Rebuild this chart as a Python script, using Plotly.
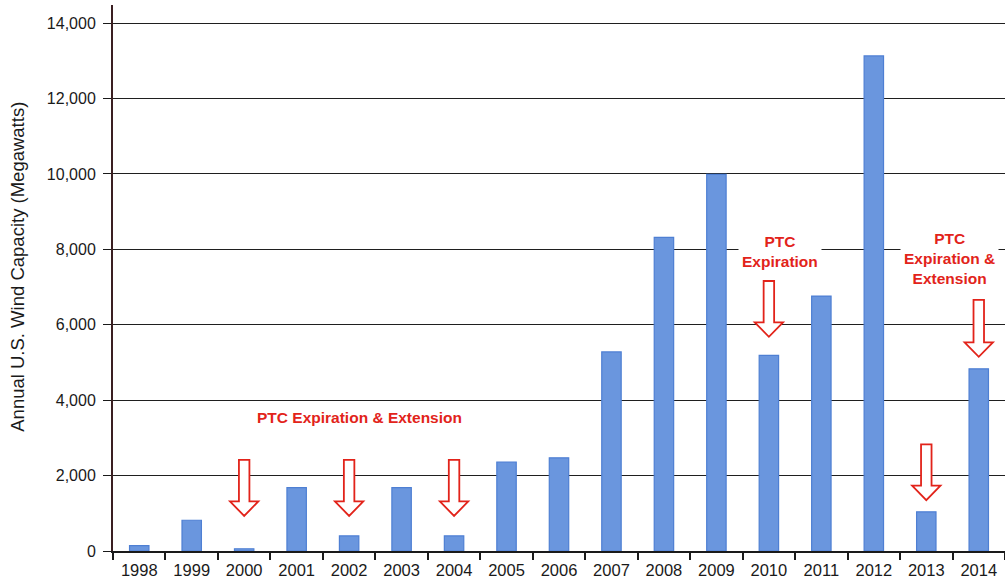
import plotly.graph_objects as go

# Annual U.S. wind capacity additions (MW)
years = [str(y) for y in range(1998, 2015)]
capacity_mw = [140, 815, 60, 1680, 400, 1680, 400, 2360, 2470, 5280,
               8320, 9990, 5190, 6760, 13130, 1040, 4830]

# PTC event arrows: year, top of shaft and tip (MW on the value axis)
arrow_years = ["2000", "2002", "2004", "2010", "2013", "2014"]
arrow_top = [2414, 2414, 2414, 7160, 2830, 6660]
arrow_tip = [930, 930, 930, 5680, 1350, 5150]

y_ticks = list(range(0, 14001, 2000))

RED = "#E2231A"
FONT = "Liberation Sans, Arial, Helvetica, sans-serif"

fig = go.Figure()
fig.add_trace(go.Bar(
    x=years, y=capacity_mw, width=0.37,
    marker=dict(color="#6A96DE", line=dict(color="#4E7FD3", width=1.2)),
    hoverinfo="x+y",
))

# hollow down arrows
shaft_hw = 0.10
head_hw = 0.27
head_len = 385
shapes = []
for yr, top, tip in zip(arrow_years, arrow_top, arrow_tip):
    c = years.index(yr)
    base = tip + head_len
    path = (f"M {c - shaft_hw},{top} L {c + shaft_hw},{top} L {c + shaft_hw},{base} "
            f"L {c + head_hw},{base} L {c},{tip} L {c - head_hw},{base} "
            f"L {c - shaft_hw},{base} Z")
    shapes.append(dict(type="path", path=path, xref="x", yref="y",
                       line=dict(color=RED, width=1.8), fillcolor="white",
                       layer="above"))

ann_font = dict(family=FONT, size=15.5, color=RED)


def cat(year, offset=0.0):
    return years.index(year) + offset


annotations = [
    dict(xref="x", yref="y", x=cat("2002", 0.19), y=3540,
         text="<b>PTC Expiration &amp; Extension</b>",
         showarrow=False, font=ann_font, yanchor="middle"),
    dict(xref="x", yref="y", x=cat("2010", 0.21), y=7930,
         text="<b>PTC<br>Expiration</b>",
         showarrow=False, font=ann_font, yanchor="middle",
         bgcolor="white", borderpad=3),
    dict(xref="x", yref="y", x=cat("2014", -0.55), y=7745,
         text="<b>PTC<br>Expiration &amp;<br>Extension</b>",
         showarrow=False, font=ann_font, yanchor="middle",
         bgcolor="white", borderpad=3),
    # value-axis title
    dict(xref="paper", yref="paper", x=-0.108, y=0.52,
         text="Annual U.S. Wind Capacity (Megawatts)", textangle=-90,
         showarrow=False, xanchor="center", yanchor="middle",
         font=dict(family=FONT, size=18.5, color="#1a1a1a")),
]

fig.update_layout(
    width=1005, height=583,
    margin=dict(l=113, r=0, t=5, b=32),
    plot_bgcolor="white", paper_bgcolor="white",
    showlegend=False,
    font=dict(family=FONT, color="#1a1a1a"),
    shapes=shapes,
    annotations=annotations,
    xaxis=dict(
        type="category", range=[-0.5, 16.5],
        tickson="boundaries", ticks="outside", ticklen=7, tickwidth=2,
        tickcolor="#1a1a1a", showline=True, linecolor="#1a1a1a", linewidth=1.5,
        showgrid=False, tickfont=dict(size=16.5), fixedrange=True,
        ticklabelstandoff=3,
    ),
    yaxis=dict(
        range=[0, 14480], tickvals=y_ticks, tickformat=",",
        showgrid=True, gridcolor="#1f1f1f", gridwidth=1,
        ticks="outside", ticklen=8, tickcolor="#1a1a1a",
        showline=True, linecolor="#3a1f22", linewidth=2,
        zeroline=False, tickfont=dict(size=16), ticklabelstandoff=4,
    ),
)

fig.write_html("out.html")
